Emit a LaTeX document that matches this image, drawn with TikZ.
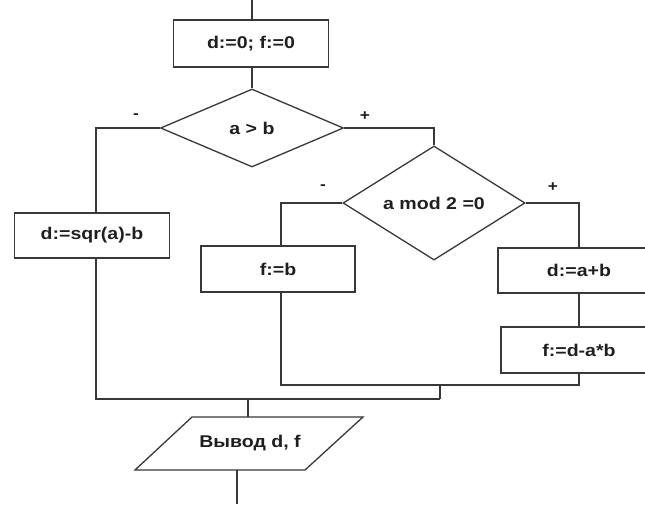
\documentclass[tikz,border=0pt]{standalone}
\usepackage{fontspec}
\setmainfont{Liberation Sans}[FakeStretch=1.15]
\usetikzlibrary{shapes.geometric}
\tikzset{
  ln/.style={line width=1.3pt, draw=black!78},
  box/.style={ln, rectangle, inner sep=0pt, font=\fontsize{17}{20}\bfseries, text=black!88},
  dia/.style={ln, diamond, inner sep=0pt, font=\fontsize{17}{20}\bfseries, text=black!88},
  txt/.style={inner sep=0pt, font=\fontsize{17}{20}\bfseries, text=black!88},
  sign/.style={inner sep=0pt, font=\fontsize{15}{18}\bfseries, text=black!88}
}
\begin{document}
\begin{tikzpicture}[x=1pt,y=-1pt]
\useasboundingbox (0,0) rectangle (645,504);
\clip (0,0) rectangle (645,504);
% nodes
\node[box, minimum width=155pt, minimum height=47pt] (b1) at (251,43.5) {d:=0; f:=0};
\node[dia, minimum width=183pt, minimum height=78pt] (d1) at (252,128) {a > b};
\node[box, minimum width=155pt, minimum height=45pt] (b2) at (92,235.5) {d:=sqr(a)-b};
\node[dia, minimum width=182pt, minimum height=76pt] (d2) at (434,203) {a mod 2 =0};
\node[box, minimum width=154pt, minimum height=46pt] (b3) at (278,269) {f:=b};
\node[box, minimum width=162pt, minimum height=45pt] (b4) at (579,270.5) {d:=a+b};
\node[box, minimum width=156pt, minimum height=46pt] (b5) at (579,350) {f:=d-a*b};
\node[txt] (p) at (250,443.5) {Вывод d, f};
\node[sign] (s1) at (136,116) {-};
\node[sign] (s2) at (365,116) {+};
\node[sign] (s3) at (323,187) {-};
\node[sign] (s4) at (553,187) {+};
% coordinates
\coordinate (top) at (252,0);
\coordinate (c1) at (96,128);
\coordinate (c2) at (434,128);
\coordinate (c3) at (281,203);
\coordinate (c4) at (579,203);
\coordinate (m1) at (440,385);
\coordinate (m2) at (440,399);
\coordinate (pt) at (248,417);
\coordinate (pb) at (237,470);
\coordinate (bot) at (237,504);
\coordinate (pa) at (192,417);
\coordinate (pbb) at (363,417);
\coordinate (pc) at (305,470);
\coordinate (pd) at (135,470);
% parallelogram
\draw[ln] (pa) -- (pbb) -- (pc) -- (pd) -- cycle;
% connectors
\draw[ln] (top) -- (b1.north -| top);
\draw[ln] (b1.south -| d1.north) -- (d1.north);
\draw[ln] (d1.west) -- (c1) -- (c1 |- b2.north);
\draw[ln] (d1.east) -- (c2) -- (d2.north);
\draw[ln] (d2.west) -- (c3) -- (c3 |- b3.north);
\draw[ln] (d2.east) -- (c4) -- (b4.north);
\draw[ln] (b4.south) -- (b5.north);
\draw[ln] (c3 |- b3.south) |- (m1) -| (b5.south);
\draw[ln] (m1) -- (m2);
\draw[ln] (c1 |- b2.south) |- (m2);
\draw[ln] (pt |- m2) -- (pt);
\draw[ln] (pb) -- (bot);
\end{tikzpicture}
\end{document}
